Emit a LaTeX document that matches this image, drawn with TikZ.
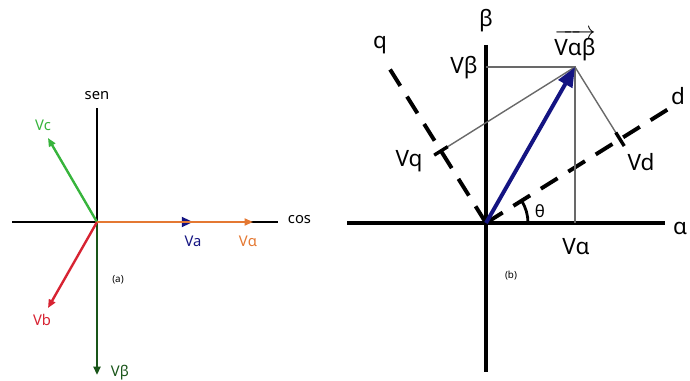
\documentclass[tikz,border=0pt]{standalone}
\usepackage{amsmath}
\usepackage{fontspec}
\setmainfont{Noto Sans}
\usetikzlibrary{arrows.meta,calc}
\definecolor{vcgreen}{RGB}{55,180,60}
\definecolor{vbred}{RGB}{215,35,50}
\definecolor{vbgreen}{RGB}{25,85,25}
\definecolor{valorange}{RGB}{228,120,50}
\definecolor{vanavy}{RGB}{20,20,130}
\definecolor{projgray}{RGB}{105,105,105}

\begin{document}
\begin{tikzpicture}[
  x=0.025cm, y=0.025cm,
  axis/.style={line width=1.4pt},
  bigaxis/.style={line width=2.8pt},
  phasor/.style={line width=1.7pt, -{Triangle[length=6pt,width=5pt]}},
  proj/.style={draw=projgray, line width=1pt},
  dqaxis/.style={bigaxis, dash pattern=on 14pt off 9pt},
  tick/.style={line width=2.4pt},
  small/.style={font=\fontsize{10.5}{12}\selectfont},
  big/.style={font=\fontsize{16}{19}\selectfont},
  tag/.style={font=\fontsize{7}{8}\selectfont\bfseries}
]
  \useasboundingbox (0,0) rectangle (690,381);

  % (a) three-phase phasors
  \coordinate (oa) at (97,159);
  \coordinate (cosl) at (12,159);
  \coordinate (cosr) at (278,159);
  \coordinate (sent) at (97,273);
  \coordinate (vbt) at (97,6);
  \coordinate (vct) at (48,243);
  \coordinate (vbbt) at (48,73);
  \coordinate (valt) at (253,159);
  \coordinate (vat) at (193,159);

  \draw[axis] (cosl) -- (cosr);
  \draw[axis] (oa) -- (sent);
  \node[small, anchor=west] (cos) at (283,161) {cos};
  \node[small] (sen) at (97,285) {sen};

  \draw[phasor, vbgreen] (oa) -- (vbt);
  \draw[phasor, vcgreen] (oa) -- (vct);
  \draw[phasor, vbred] (oa) -- (vbbt);
  \draw[phasor, vanavy, -{Triangle[length=8pt,width=7pt]}] (oa) -- (vat);
  \draw[line width=1.3pt, valorange, -{Triangle[length=6pt,width=5pt]}] (oa) -- (valt);

  \node[small, vcgreen] (vc) at (43,256) {Vc};
  \node[small, vbred] (vb) at (42,61) {Vb};
  \node[small, vbgreen, anchor=west] (vbeta) at (106,8) {Vβ};
  \node[small, vanavy] (va) at (193,140) {Va};
  \node[small, valorange] (valpha) at (248,140) {Vα};
  \node[tag] (taga) at (118,101) {(a)};

  % (b) alpha-beta and d-q frames
  \coordinate (ob) at (486,158);
  \coordinate (alpl) at (347,158);
  \coordinate (alpr) at (665,158);
  \coordinate (bett) at (486,336);
  \coordinate (betb) at (486,9);
  \coordinate (dend) at ($(ob)+(32:226)$);
  \coordinate (qend) at ($(ob)+(122:181)$);
  \coordinate (tip) at (575,314);
  \coordinate (footb) at (486,314);
  \coordinate (foota) at (575,158);
  \coordinate (footd) at ($(ob)+(32:158)$);
  \coordinate (footq) at ($(ob)+(122:85)$);

  \draw[bigaxis] (alpl) -- (alpr);
  \draw[bigaxis] (bett) -- (betb);
  \draw[dqaxis] (ob) -- (dend);
  \draw[dqaxis] (ob) -- (qend);

  \draw[proj] (footb) -- (tip) -- (foota);
  \draw[proj] (footq) -- (tip) -- (footd);
  \draw[tick] ($(footd)+(122:8)$) -- ($(footd)+(-58:8)$);
  \draw[tick] ($(footq)+(32:8)$) -- ($(footq)+(212:8)$);

  \draw[vanavy, line width=2.8pt, -{Triangle[length=14pt,width=11pt]}] (ob) -- (tip);
  \draw[line width=2pt] ($(ob)+(42,0)$) arc[start angle=0, end angle=32, radius=42];

  \node[big] (beta) at (486,360) {β};
  \node[big] (alpha) at (680,153) {α};
  \node[big] (q) at (380,336) {q};
  \node[big, anchor=east] (d) at (690,285) {d};
  \node[big] (vab) at (575,336) {\(\overrightarrow{\hbox{Vαβ}}\)};
  \node[big] (vbe) at (464,313) {Vβ};
  \node[big] (val) at (576,134) {Vα};
  \node[big] (vd) at (641,219) {Vd};
  \node[big] (vq) at (409,220) {Vq};
  \node[font=\fontsize{12}{14}\selectfont] (theta) at (540,170) {θ};
  \node[tag] (tagb) at (511,105) {(b)};
\end{tikzpicture}
\end{document}
